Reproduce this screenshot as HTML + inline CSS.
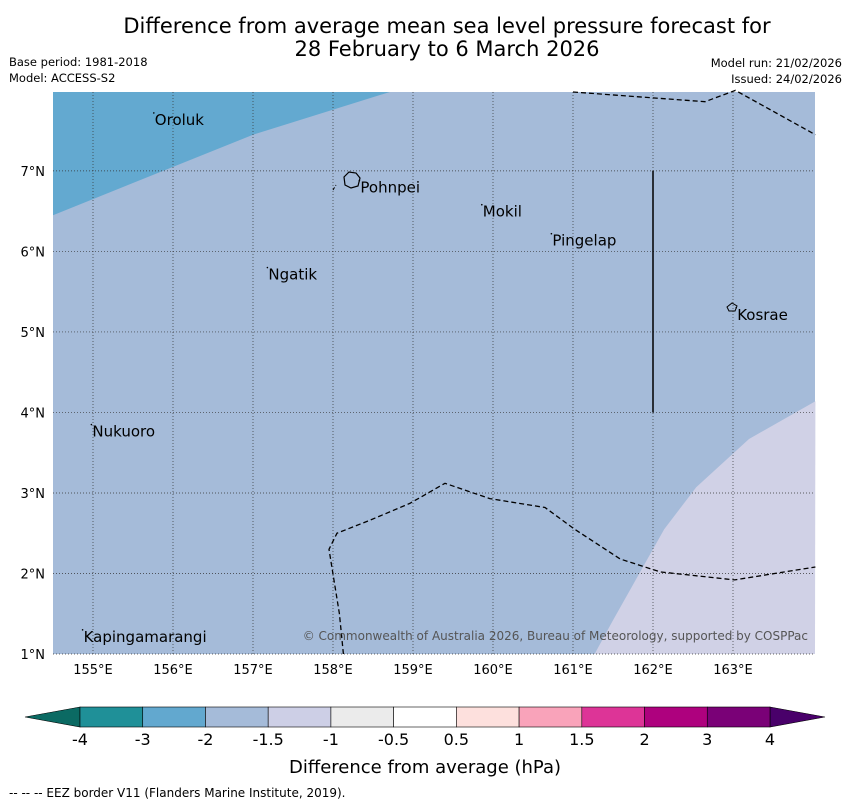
<!DOCTYPE html>
<html><head><meta charset="utf-8"><style>
body{margin:0;background:#fff;font-family:"Liberation Sans","DejaVu Sans",sans-serif;}
svg text{font-family:"DejaVu Sans","Liberation Sans",sans-serif;}
</style></head><body>
<svg id="chart" width="850" height="804" xmlns="http://www.w3.org/2000/svg">
<text x="447" y="33" font-size="21" text-anchor="middle">Difference from average mean sea level pressure forecast for</text>
<text x="447" y="56" font-size="21" text-anchor="middle">28 February to 6 March 2026</text>
<text x="9" y="66" font-size="11.5">Base period: 1981-2018</text>
<text x="9" y="82" font-size="11.5">Model: ACCESS-S2</text>
<text x="842" y="67" font-size="11.5" text-anchor="end">Model run: 21/02/2026</text>
<text x="842" y="83" font-size="11.5" text-anchor="end">Issued: 24/02/2026</text>
<g id="map"></g>
<g id="cbar"></g>
<text x="425" y="773" font-size="18" text-anchor="middle">Difference from average (hPa)</text>
<text x="9" y="797" font-size="12">--  --  -- EEZ border V11 (Flanders Marine Institute, 2019).</text>
</svg>
<script>
const lonTicks=[155,156,157,158,159,160,161,162,163];
const latTicks=[1,2,3,4,5,6,7];
const lowContour=[[154.5,6.45],[157.0,7.45],[158.71,7.98]];
const highContour=[[161.27,1.0],[161.5,1.42],[162.14,2.55],[162.54,3.07],[163.2,3.67],[164.03,4.14]];
const eezSouth=[[158.13,1.0],[158.08,1.5],[157.95,2.3],[158.05,2.5],[158.46,2.66],[158.96,2.87],[159.4,3.12],[159.96,2.93],[160.65,2.82],[161.02,2.55],[161.59,2.18],[162.09,2.02],[163.02,1.92],[164.03,2.08]];
const eezNorth=[[161.0,7.98],[162.65,7.86],[163.03,8.0],[164.03,7.45]];
const borderLine=[[162.0,7.0],[162.0,4.0]];
const places=[["Oroluk",155.76,7.72],["Pohnpei",158.33,6.88],["Mokil",159.86,6.58],["Pingelap",160.73,6.22],["Ngatik",157.18,5.8],["Kosrae",163.04,5.3],["Nukuoro",154.98,3.85],["Kapingamarangi",154.87,1.3]];
const cbLabels=["-4","-3","-2","-1.5","-1","-0.5","0.5","1","1.5","2","3","4"];
const cbColors=["#1f9098","#62a8cf","#a5bbd9","#cdcfe6","#ebebeb","#ffffff","#fde0dd","#f9a3ba","#dd3497","#ae017e","#7a0177"];
const L0=154.5,L1=164.025,B0=1.0,B1=7.98,X0=53,X1=815,Y0=92,Y1=654;
const xs=l=>X0+(l-L0)/(L1-L0)*(X1-X0);
const ys=b=>Y1-(b-B0)/(B1-B0)*(Y1-Y0);
const NS="http://www.w3.org/2000/svg";
function mk(p,t,a){const e=document.createElementNS(NS,t);for(const k in a)e.setAttribute(k,a[k]);p.appendChild(e);return e;}
const map=document.getElementById('map');
let r=mk(map,'rect',{x:X0,y:Y0,width:X1-X0,height:Y1-Y0,fill:'#a5bbd9'});


const pts=a=>a.map(p=>xs(p[0]).toFixed(1)+','+ys(p[1]).toFixed(1)).join(' ');
let p1=mk(map,'polygon',{points:X0+','+Y0+' '+pts(lowContour),fill:'#63a9d0'});


let p2=mk(map,'polygon',{points:pts(highContour)+' '+X1+','+Y1,fill:'#d0d1e6'});


lonTicks.forEach(l=>{const x=xs(l);
let g=mk(map,'line',{x1:x,x2:x,y1:Y0,y2:Y1,stroke:'#333',"stroke-width":0.7,"stroke-dasharray":'1,2'});


let t=mk(map,'text',{x:x,y:674,"font-size":13,"text-anchor":'middle'});t.textContent=l+'°E';

});
latTicks.forEach(b=>{const y=ys(b);
let g=mk(map,'line',{x1:X0,x2:X1,y1:y,y2:y,stroke:'#333',"stroke-width":0.7,"stroke-dasharray":'1,2'});


let t=mk(map,'text',{x:45,y:y+5,"font-size":13,"text-anchor":'end'});t.textContent=b+'°N';

});
[[eezSouth,'eez-border-south'],[eezNorth,'eez-border-north']].forEach(([a,n])=>{
let e=mk(map,'polyline',{points:pts(a),fill:'none',stroke:'#000',"stroke-width":1.3,"stroke-dasharray":'5,3'});

});
let bl=mk(map,'polyline',{points:pts(borderLine),fill:'none',stroke:'#000',"stroke-width":1.5});


let d=mk(map,'path',{d:'M333,190 L336,185',stroke:'#000',fill:'none',"stroke-dasharray":'3,2'});


let is1=mk(map,'path',{d:'M344,177 L349,172 L356,173 L360,178 L358,186 L351,188 L345,185 Z',fill:'none',stroke:'#000',"stroke-width":1.2});


let is2=mk(map,'path',{d:'M727,307 L732,303 L737,306 L735,311 L729,311 Z',fill:'none',stroke:'#000',"stroke-width":1});


places.forEach(([n,l,b])=>{const x=xs(l),y=ys(b);
let t=mk(map,'text',{x:x+1,y:y+12,"font-size":15});t.textContent=n;


let m=mk(map,'circle',{cx:x,cy:y,r:0.8,fill:'#000'});

});
let cp=mk(map,'text',{x:808,y:640,"font-size":12,"text-anchor":'end',fill:'#555'});cp.textContent='© Commonwealth of Australia 2026, Bureau of Meteorology, supported by COSPPac';


const cb=document.getElementById('cbar');const CX0=80,CX1=770,CY=707,CH=20,w=(CX1-CX0)/cbColors.length;
let la=mk(cb,'polygon',{points:`${CX0},${CY} 25,${CY+CH/2} ${CX0},${CY+CH}`,fill:'#0b6a63',stroke:'#000',"stroke-width":0.6});


let ra=mk(cb,'polygon',{points:`${CX1},${CY} 825,${CY+CH/2} ${CX1},${CY+CH}`,fill:'#49006a',stroke:'#000',"stroke-width":0.6});


cbColors.forEach((c,i)=>{let s=mk(cb,'rect',{x:CX0+i*w,y:CY,width:w,height:CH,fill:c,stroke:'#000',"stroke-width":0.6});

});
cbLabels.forEach((t,i)=>{let e=mk(cb,'text',{x:CX0+i*w,y:745,"font-size":16,"text-anchor":'middle'});e.textContent=t;

});
</script>
</body></html>
